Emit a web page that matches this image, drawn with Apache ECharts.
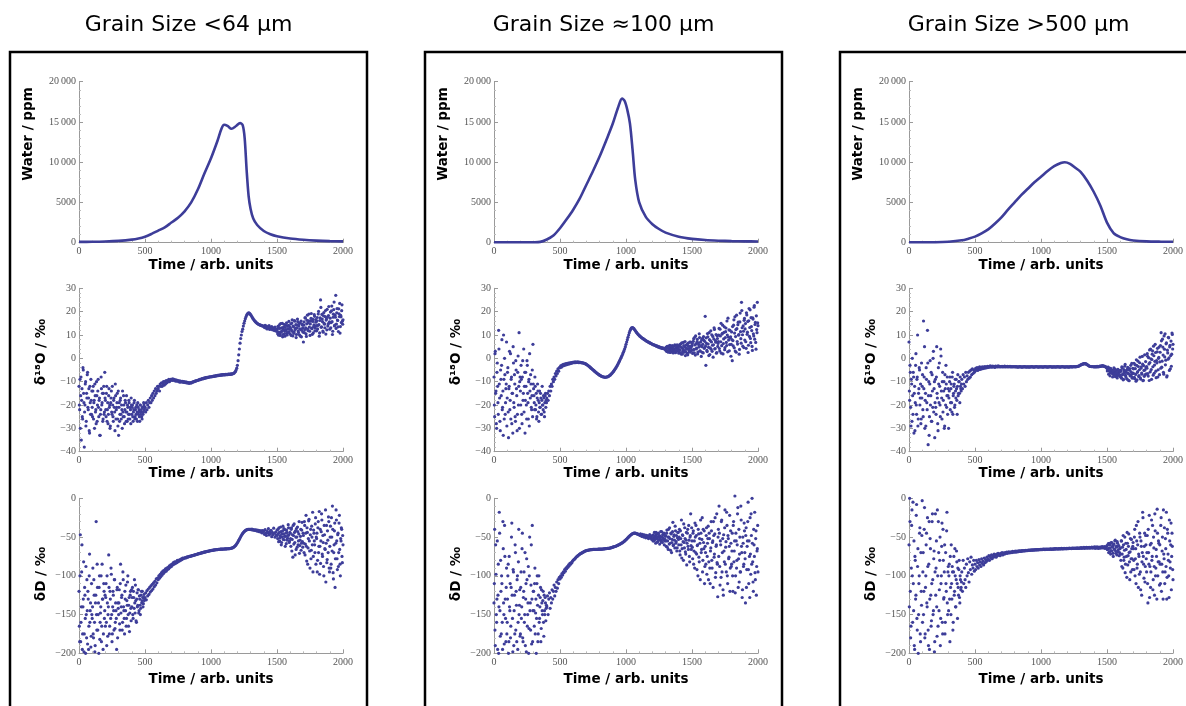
<!DOCTYPE html>
<html>
<head>
<meta charset="utf-8">
<script src="https://cdn.jsdelivr.net/npm/echarts@6/dist/echarts.min.js"></script>
<style>html,body{margin:0;padding:0;background:#fff}#chart{width:1186px;height:706px}</style>
</head>
<body>
<div id="chart"></div>
<script>
// ---------- DATA ----------
const panelTitles = ['Grain Size <64 µm', 'Grain Size \u2248100 µm', 'Grain Size >500 µm'];
const xAxisTitle = 'Time / arb. units';
const yAxisTitles = ['Water / ppm', '\u03b4\u00b9\u2078O / \u2030', '\u03b4D / \u2030'];
const timeTicks = [0, 500, 1000, 1500, 2000];

// water content curves: [time, ppm]
const waterFine = [[0,100],[100,110],[200,150],[300,230],[400,380],[450,520],[500,750],[550,1100],[600,1500],[650,1900],[700,2500],[750,3100],[800,3900],[850,5000],[900,6600],[950,8600],[1000,10500],[1050,12700],[1080,14200],[1100,14650],[1125,14500],[1155,14150],[1190,14500],[1220,14850],[1240,14600],[1255,13000],[1270,9000],[1285,5800],[1300,4200],[1320,3000],[1350,2200],[1400,1450],[1450,1050],[1500,800],[1600,520],[1700,360],[1800,260],[1900,200],[2000,170]];
const waterMid = [[0,50],[200,50],[300,60],[350,100],[400,400],[450,900],[500,1800],[550,2900],[600,4100],[650,5500],[700,7200],[750,8900],[800,10700],[850,12700],[900,14800],[940,16800],[970,17900],[990,17600],[1010,16500],[1030,14800],[1050,11500],[1070,7800],[1100,5000],[1150,3200],[1200,2300],[1250,1700],[1300,1250],[1400,750],[1500,480],[1600,330],[1700,250],[1800,200],[1900,170],[2000,150]];
const waterCoarse = [[0,50],[200,60],[300,120],[400,300],[450,500],[500,750],[550,1150],[600,1650],[650,2350],[700,3150],[750,4100],[800,5000],[850,5900],[900,6700],[950,7500],[1000,8200],[1050,8900],[1100,9500],[1150,9900],[1180,10000],[1220,9800],[1260,9300],[1300,8800],[1350,7700],[1400,6300],[1450,4600],[1500,2500],[1550,1200],[1600,700],[1650,420],[1700,280],[1800,170],[1900,130],[2000,110]];

// isotope values sampled every 5 time units (index i -> time 5*i), 0..2000
const SAMPLE_STEP = 5;
const d18oFine = [
-12,-22,-30,-8,-18,-25,-4,-15,-38,-20,-10,-27,-17,-6,-22,-13,-32,-19,-9,-24,
-21,-14,-26,-18,-11,-23,-28,-16,-20,-9,-25,-17,-33,-22,-13,-19,-27,-15,-24,-6,
-18,-25,-12,-22,-28,-16,-21,-30,-19,-14,-24,-20,-27,-17,-23,-11,-26,-21,-15,-29,
-33,-19,-24,-17,-26,-22,-14,-25,-20,-28,-18,-23,-16,-27,-21,-24,-19,-26,-22,-17,
-24,-20,-27,-22,-18,-25,-21,-26,-23,-19,-24,-22,-27,-20,-23,-25,-21,-24,-19,-22,
-21,-23,-19,-22,-20,-18,-21,-19,-17,-19,-16,-18,-15,-17,-14,-16,-13,-15,-14,-12,
-13,-12,-14,-11,-12,-10.5,-12,-11,-10,-11.5,-10,-11,-9.5,-10.5,-9.5,-10,-9,-10,-9.5,-9,
-9,-9.5,-8.8,-9.4,-9,-9.6,-9.2,-9.8,-9.3,-9.7,-9.5,-10,-9.6,-10.2,-9.8,-10,-10.1,-9.9,-10.3,-10,
-10.2,-10.4,-10.1,-10.5,-10.3,-10.6,-10.4,-10.7,-10.5,-10.4,-10.6,-10.3,-10.2,-10.1,-10,-9.9,-9.8,-9.7,-9.6,-9.5,
-9.4,-9.3,-9.2,-9,-9.1,-8.9,-8.8,-8.7,-8.8,-8.5,-8.6,-8.4,-8.3,-8.4,-8.2,-8.1,-8.2,-8,-7.9,-8,
-7.9,-7.8,-7.9,-7.7,-7.6,-7.7,-7.5,-7.6,-7.4,-7.5,-7.3,-7.4,-7.2,-7.3,-7.2,-7.1,-7.2,-7,-7.1,-7,
-7,-7.1,-6.9,-7,-6.9,-7,-6.8,-6.9,-6.8,-6.9,-6.7,-6.8,-6.7,-6.6,-6.5,-6.3,-6,-5.6,-5,-4.2,
-3,-1,1.5,4,6.5,8.5,10,11.5,12.5,13.8,15,16,17,17.8,18.5,19,19.3,19.5,19.4,19.1,
18.7,18.3,17.8,17.3,16.9,16.5,16.1,15.8,15.5,15.2,15,14.8,14.6,14.5,14.3,14.2,14.1,14,13.9,13.8,
13.7,13.2,14.1,13,13.8,12.6,13.5,12.9,14,12.4,13.3,12.7,13.6,12.2,13.1,12.8,11.9,13.4,12.5,11.6,
12.5,10.5,13.8,11.2,14.5,9.8,12.9,11.6,15,10.2,13.4,11.9,9.5,14.2,12.2,10.8,13.9,11.1,15.8,12.6,
10.4,14.8,12.1,16.5,9.6,13.5,11.3,15.9,12.8,8.9,14.2,16.8,11.7,13.9,10.1,15.3,12.4,9.2,14.6,13.1,
7,15.6,12.3,17.2,10.5,14.8,18.5,11.9,16.1,13.4,9.8,15.9,19.2,12.7,16.8,10.9,14.3,18,13,15.5,
11.8,17.5,14.1,20.1,9.5,16.2,25,13.3,18.8,15.7,11.2,19.6,14.6,17.9,10.4,16.9,21,13.8,18.3,15.1,
12.5,19.8,15.3,22.4,10.2,17.6,20.9,13.9,18.5,27,14.7,21.3,16.2,11.5,19.1,23.5,13.6,17.8,20.4,15.9,
16.5];
const dDFine = [
-120,-185,-47,-160,-95,-195,-140,-82,-175,-125,-200,-150,-105,-188,-130,-165,-72,-145,-192,-110,
-155,-90,-180,-125,-198,-135,-30,-170,-115,-150,-200,-100,-160,-140,-185,-85,-130,-175,-120,-145,
-165,-110,-190,-135,-150,-73,-175,-120,-155,-98,-185,-140,-125,-170,-105,-160,-145,-195,-115,-135,
-150,-118,-170,-85,-140,-125,-160,-105,-145,-175,-130,-112,-155,-138,-100,-165,-128,-148,-120,-158,
-140,-115,-155,-128,-105,-148,-132,-160,-122,-138,-118,-145,-130,-150,-125,-135,-120,-140,-128,-132,
-128,-122,-131,-119,-126,-117,-124,-115,-121,-113,-119,-111,-117,-109,-114,-107,-112,-104,-109,-103,
-105,-100,-103,-98,-101,-96,-99,-94,-97,-93,-95,-91,-94,-90,-92,-89,-91,-87,-89,-86,
-88,-85,-86,-83,-85,-82,-84,-82,-83,-80,-82,-80,-81,-79,-80,-78,-79,-77,-78,-77,
-77,-76.5,-77,-76,-76,-75.5,-75.5,-75,-75,-74.5,-74.5,-74,-74,-73.5,-73.5,-73,-73,-72.5,-72.5,-72,
-72,-71.5,-71.5,-71,-71,-70.5,-70.5,-70,-70,-69.5,-69.5,-69.2,-69,-68.8,-68.6,-68.4,-68.2,-68,-67.8,-67.6,
-67.4,-67.2,-67,-66.9,-66.8,-66.6,-66.5,-66.4,-66.3,-66.2,-66.1,-66,-65.9,-65.8,-65.7,-65.6,-65.6,-65.5,-65.5,-65.4,
-65.4,-65.3,-65.3,-65.2,-65.2,-65.1,-65.1,-65,-65,-64.8,-64.6,-64.4,-64.1,-63.7,-63.2,-62.6,-61.9,-61,-60,-58.8,
-57.5,-56,-54.4,-52.8,-51.2,-49.6,-48,-46.6,-45.3,-44.2,-43.2,-42.4,-41.7,-41.1,-40.6,-40.3,-40.1,-40,-40,-40.1,
-40.2,-40.5,-39.8,-40.9,-40.3,-41.2,-40.6,-41.5,-40.8,-42,-41.1,-42.5,-41.3,-43,-41.7,-43.2,-42,-44.5,-41.8,-43.8,
-42,-46.5,-40.5,-45.2,-48,-42.8,-44.6,-39.2,-47.3,-43.1,-45.9,-41.2,-49.5,-44,-46.8,-38.5,-45.1,-50.2,-43.5,-47.6,
-41,-52,-45.5,-38,-55,-48.2,-43,-57,-50,-36,-46,-53.5,-40.5,-49,-58.5,-44,-51.5,-34,-47.5,-55,
-45,-62,-38,-53,-76,-48,-33,-57,-42,-66,-50,-37,-60,-46,-71,-54,-40,-58,-31,-63,
-48,-70,-35,-59,-22,-81,-44,-64,-29,-55,-90,-40,-67,-50,-18,-75,-45,-60,-33,-85,
-52,-95,-38,-70,-17,-62,-84,-43,-28,-75,-57,-100,-47,-66,-108,-35,-79,-54,-24,-90,
-62,-36,-85,-50,-10,-96,-70,-42,-115,-58,-28,-78,-47,-88,-32,-66,-100,-55,-40,-83,
-60];
const d18oMid = [
-8,-25,3,-14,-30,-2,-19,12,-11,-27,-5,-16,8,-21,-33,-9,0,-24,-13,7,
-17,-4,-34,-12,-22,2,-9,-28,-15,5,-19,-7,-25,-1,-13,-31,-6,-20,11,-10,
-14,-3,-24,-8,-18,4,-12,-32,-6,-20,-1,-15,-26,-9,2,-17,-11,-22,-5,6,
-13,-19,-8,-22,-15,-25,-11,-18,-27,-14,-21,-17,-24,-12,-20,-16,-23,-19,-15,-18,
-17,-15,-18,-14,-16,-12,-14,-11,-12,-9,-10,-8,-9,-6.5,-7.5,-5.5,-6.5,-4.5,-5.5,-4,
-4,-3.2,-3.8,-2.9,-3.3,-2.6,-3.1,-2.5,-2.9,-2.3,-2.7,-2.2,-2.5,-2,-2.4,-1.9,-2.2,-1.8,-2.1,-1.7,
-1.8,-1.6,-1.9,-1.5,-1.8,-1.6,-1.7,-1.5,-1.8,-1.6,-1.8,-1.7,-1.9,-1.8,-2,-1.9,-2.1,-2.1,-2.3,-2.4,
-2.6,-2.8,-3,-3.2,-3.4,-3.7,-3.9,-4.2,-4.4,-4.7,-4.9,-5.2,-5.4,-5.7,-5.9,-6.1,-6.4,-6.6,-6.8,-7,
-7.2,-7.4,-7.5,-7.7,-7.8,-7.9,-8,-8,-8.1,-8.1,-8,-8,-7.9,-7.8,-7.6,-7.4,-7.2,-6.9,-6.6,-6.3,
-6,-5.6,-5.2,-4.8,-4.4,-3.9,-3.4,-2.9,-2.4,-1.8,-1.2,-0.6,0,0.6,1.2,1.9,2.6,3.3,4.1,5,
6,7,8,9,10,11,11.8,12.4,12.9,13.1,13.2,13,12.7,12.3,11.9,11.5,11.1,10.7,10.4,10.1,
9.8,9.5,9.3,9,8.8,8.6,8.4,8.2,8,7.8,7.6,7.4,7.3,7.1,6.9,6.8,6.6,6.5,6.3,6.2,
6,5.9,5.7,5.8,5.5,5.4,5.2,5.3,5,4.8,5,4.6,4.7,4.4,4.6,4.2,4.5,4.1,4.3,3.9,
3.6,4.8,3.1,4.3,2.7,5.2,3.8,2.5,4.6,3.3,5.5,2.9,4.1,3.5,5.8,2.4,4.4,3.2,5,3.7,
2.2,5.4,3.6,6.2,1.8,4.5,3,6.8,2.6,4.9,1.2,5.7,3.9,2.1,6.5,4.2,2.8,5.1,7,3.4,
5.5,2.1,7.3,3.8,9,1.4,6.2,4.4,8.1,2.7,5.9,10.5,3.2,6.9,0.8,5,8.6,2.3,7.7,4.6,
18,-3,6.4,2.9,9.2,4.7,11,1.6,7.5,3.9,10.1,5.6,0.5,8.3,12.4,4.2,6.9,2.2,9.7,5.1,
7.2,12.8,3.1,9.6,15,5.4,10.7,1.9,8.3,13.5,4.6,11.4,6.8,16,2.8,9.1,12.2,5.9,8.7,0.9,
11.3,-1,7.6,14.2,4.5,17.8,9.3,2.6,12.7,6.1,15.5,10.2,3.8,19.4,8.4,24,13.1,5.2,11.6,16.3,
7.8,14.9,4.3,18.6,11.2,2.5,16.1,9.4,20.8,6.7,13.6,5.1,17.3,10.5,21.9,8.2,15.4,3.9,12.3,24,
14];
const dDMid = [
-135,-40,-190,-98,-160,-55,-125,-200,-18,-145,-80,-175,-110,-195,-65,-150,-35,-130,-185,-90,
-160,-100,-200,-75,-145,-180,-115,-32,-155,-92,-190,-125,-60,-170,-138,-105,-195,-82,-150,-118,
-175,-95,-140,-45,-185,-120,-160,-70,-130,-198,-105,-150,-88,-168,-50,-135,-112,-188,-35,-145,
-120,-165,-90,-148,-200,-110,-138,-175,-100,-155,-128,-185,-118,-145,-132,-160,-125,-150,-135,-142,
-140,-126,-150,-130,-122,-142,-128,-135,-118,-130,-120,-112,-126,-115,-120,-108,-116,-105,-110,-102,
-104,-100,-102,-97,-99,-95,-96,-92,-94,-90,-91,-88,-89,-86,-87,-84,-85,-83,-83,-81,
-80,-79,-78.5,-77.5,-76.5,-75.5,-75,-74,-73.5,-72.5,-72,-71.5,-71,-70.5,-70,-69.5,-69,-68.5,-68,-67.8,
-67.5,-67.3,-67,-66.8,-66.7,-66.5,-66.4,-66.3,-66.2,-66.1,-66,-66,-66,-65.9,-65.9,-65.8,-65.8,-65.8,-65.7,-65.7,
-65.7,-65.6,-65.6,-65.5,-65.5,-65.4,-65.3,-65.2,-65.1,-65,-64.9,-64.8,-64.7,-64.6,-64.5,-64.3,-64.1,-63.9,-63.7,-63.4,
-63.1,-62.8,-62.5,-62.2,-61.9,-61.6,-61.2,-60.8,-60.4,-60,-59.6,-59.1,-58.6,-58.1,-57.6,-57,-56.4,-55.7,-55,-54.2,
-53.4,-52.6,-51.7,-50.8,-49.9,-49,-48.2,-47.4,-46.7,-46.1,-45.6,-45.2,-45,-44.9,-45,-45.3,-45.7,-46,-46.3,-46.6,
-46.8,-48,-46,-47.8,-49.2,-46.5,-48.6,-50,-47.3,-49.5,-51,-47.8,-50.3,-48.5,-52,-49,-46.8,-51.5,-49.7,-53,
-48,-55,-51,-44,-53,-58,-47,-52,-56,-45,-50,-59,-49,-54,-43,-57,-51,-46,-60,-53,
-48,-62,-41,-55,-66,-50,-38,-58,-45,-70,-53,-31,-60,-47,-64,-42,-56,-68,-51,-44,
-60,-40,-73,-52,-28,-65,-48,-80,-57,-38,-69,-54,-86,-45,-62,-35,-75,-50,-20,-66,
-55,-78,-42,-68,-90,-50,-35,-72,-61,-100,-46,-82,-58,-28,-70,-53,-95,-40,-65,-110,
-62,-85,-38,-75,-52,-105,-45,-90,-68,-30,-80,-57,-115,-48,-72,-25,-96,-60,-83,-127,
-40,-10,-88,-55,-102,-28,-70,-118,-47,-82,-15,-63,-95,-35,-110,-52,-76,-22,-90,-58,
-85,-45,-120,-30,-68,3,-100,-55,-80,-20,-115,-40,-72,-95,-10,-62,-128,-50,-88,-32,
-70,-135,-38,-92,-55,-5,-110,-75,-25,-98,-48,0,-82,-120,-60,-18,-105,-42,-88,-65,
-95];
const d18oCoarse = [
7,-18,-6,-29,-11,0,-24,-8,-15,-31,-3,-20,-9,10,-26,-13,-5,-17,-28,-2,
-12,-22,16,-8,-30,-15,-4,-19,12,-37,-10,-25,-1,-16,-27,-7,-21,3,-13,-34,
-9,-24,5,-17,-31,-11,-2,-20,4,-14,-26,-6,-18,-10,-29,-13,-3,-21,-8,-16,
-30,-14,-8,-19,-11,-23,-6,-16,-12,-21,-9,-17,-13,-24,-7,-15,-10,-19,-12,-14,
-9,-13,-7,-11,-8,-12,-6,-10,-7.5,-9,-6,-8.5,-5.5,-8,-5,-7,-4.5,-6.5,-5,-6,
-5.5,-4.3,-5,-4,-5.2,-4.1,-4.8,-3.7,-4.7,-3.9,-4.5,-3.6,-4.4,-3.8,-4.2,-3.5,-4.1,-3.7,-4,-3.4,
-3.9,-3.5,-3.8,-3.2,-3.7,-3.4,-3.8,-3.3,-3.6,-3.5,-3.9,-3.3,-3.6,-3.4,-3.7,-3.2,-3.6,-3.4,-3.7,-3.5,
-3.6,-3.4,-3.7,-3.5,-3.6,-3.3,-3.7,-3.5,-3.6,-3.4,-3.7,-3.5,-3.6,-3.4,-3.7,-3.6,-3.5,-3.7,-3.6,-3.5,
-3.6,-3.7,-3.5,-3.7,-3.6,-3.8,-3.6,-3.7,-3.5,-3.7,-3.6,-3.8,-3.7,-3.6,-3.7,-3.5,-3.7,-3.6,-3.8,-3.6,
-3.7,-3.6,-3.8,-3.7,-3.6,-3.7,-3.5,-3.7,-3.6,-3.8,-3.7,-3.6,-3.7,-3.5,-3.6,-3.7,-3.8,-3.6,-3.7,-3.6,
-3.7,-3.6,-3.7,-3.8,-3.6,-3.7,-3.5,-3.7,-3.6,-3.7,-3.8,-3.6,-3.7,-3.6,-3.5,-3.7,-3.6,-3.8,-3.7,-3.6,
-3.7,-3.6,-3.8,-3.6,-3.7,-3.5,-3.7,-3.6,-3.7,-3.8,-3.6,-3.7,-3.5,-3.6,-3.7,-3.6,-3.8,-3.7,-3.6,-3.7,
-3.6,-3.7,-3.8,-3.6,-3.7,-3.5,-3.7,-3.6,-3.7,-3.6,-3.5,-3.6,-3.7,-3.5,-3.6,-3.4,-3.5,-3.3,-3.2,-3,
-2.9,-2.7,-2.6,-2.5,-2.4,-2.3,-2.3,-2.3,-2.4,-2.5,-2.7,-2.9,-3.1,-3.3,-3.4,-3.5,-3.5,-3.6,-3.5,-3.6,
-3.6,-3.7,-3.5,-3.7,-3.6,-3.4,-3.7,-3.5,-3.6,-3.3,-3.5,-3.2,-3.4,-3.1,-3.3,-3.2,-3.5,-3.4,-3.7,-3.9,
-4.2,-4.8,-3.9,-5.3,-4.5,-6.1,-4.9,-5.7,-6.5,-5.1,-7,-5.8,-4.6,-6.9,-5.4,-7.6,-6.2,-5,-7.3,-6,
-7.8,-5.2,-8.5,-4,-6.7,-9,-5.5,-3.4,-7.2,-6,-8.8,-4.6,-6.4,-9.5,-5.1,-7.5,-3,-6.9,-8.2,-4.3,
-6.5,-2.1,-8.7,-4.4,-9.8,-3,-6,-1.2,-7.8,-4.9,0.5,-8.9,-3.6,-6.8,-2.5,-9.4,-5.2,1.5,-7,-4,
-3.5,2,-6.5,0.3,-9.5,-1.8,4,-4.8,-0.5,3.2,-7.2,1.1,-2.9,6,-5.5,-1,2.8,-8,0,4.8,
-1.5,5.5,11,-3.8,8.2,1.4,-6.8,3.9,10.5,-0.8,6.6,-7.5,2.3,9,0.2,4.9,-4.5,7.4,1.8,10.2,
6];
const dDCoarse = [
-60,0,-120,-165,-35,-100,-5,-145,-190,-75,-130,-22,-155,-88,-200,-110,-45,-175,-70,-138,
-3,-95,-150,-40,-180,-115,-60,-135,-25,-170,-85,-195,-52,-125,-158,-30,-105,-145,-68,-185,
-20,-90,-140,-15,-165,-70,-118,-50,-155,-100,-32,-175,-80,-128,-60,-160,-110,-42,-135,-95,
-145,-85,-185,-115,-60,-130,-95,-160,-75,-120,-100,-140,-68,-110,-90,-125,-80,-135,-105,-115,
-95,-120,-80,-110,-90,-105,-115,-85,-100,-78,-96,-108,-82,-92,-76,-98,-86,-90,-80,-94,
-85,-92,-80,-88,-83,-90,-79,-86,-82,-88,-78,-84,-81,-86,-77,-83,-79,-82,-76,-80,
-78,-74,-80,-75,-77,-73,-78,-74,-76,-72,-75,-73,-76,-72,-74,-71,-73,-72,-74,-71,
-72,-70,-73,-71,-70.5,-72,-70,-71,-69.5,-71,-70,-69,-70.5,-69.5,-70,-69,-70,-68.5,-69.5,-69,
-69,-68,-69.5,-68.5,-68,-69,-68.2,-67.8,-68.6,-67.9,-68.4,-67.6,-68.1,-67.5,-68,-67.4,-67.8,-67.3,-67.7,-67.2,
-67.5,-66.8,-67.3,-66.7,-67.1,-66.5,-67,-66.6,-66.9,-66.4,-66.8,-66.3,-66.7,-66.2,-66.6,-66.1,-66.5,-66.2,-66.4,-66,
-66.3,-65.8,-66.2,-65.7,-66,-65.6,-66.1,-65.5,-65.9,-65.6,-65.8,-65.4,-65.9,-65.5,-65.7,-65.3,-65.8,-65.4,-65.6,-65.2,
-65.6,-65,-65.5,-64.9,-65.4,-65.1,-65.5,-64.8,-65.3,-65,-65.4,-64.7,-65.2,-64.9,-65.3,-64.6,-65.1,-64.8,-65.2,-64.6,
-65,-64.5,-64.9,-64.3,-64.8,-64.6,-64.9,-64.2,-64.7,-64.4,-64.8,-64.1,-64.6,-64.3,-64.7,-64,-64.5,-64.2,-64.6,-64,
-64.4,-63.6,-64.6,-63.8,-64.2,-63.4,-64.5,-63.7,-64.1,-63.3,-64.3,-63.6,-64,-63.2,-64.4,-63.5,-63.9,-63.1,-64.2,-63.4,
-63.9,-62.8,-64.6,-63,-64.2,-62.5,-63.7,-64.8,-62.9,-63.5,-64.4,-62.6,-63.8,-62.2,-64.1,-63.2,-62.4,-64.7,-63,-62.7,
-61,-66,-58.5,-64.5,-69,-60,-67.5,-57,-63,-71,-59.5,-65.5,-55,-68,-62,-73,-58,-66.5,-61.5,-70,
-64,-80,-55,-72,-90,-60,-76,-50,-85,-66,-102,-58,-74,-46,-82,-69,-95,-53,-78,-62,
-65,-92,-40,-78,-110,-55,-85,-30,-72,-98,-50,-118,-62,-82,-18,-75,-103,-45,-88,-60,
-95,-48,-135,-70,-22,-88,-115,-58,-80,-35,-105,-64,-125,-42,-90,-75,-14,-100,-55,-82,
-60,-110,-25,-85,-50,-130,-72,-38,-95,-65,-18,-102,-45,-80,-128,-55,-90,-32,-75,-62,
-105];

// additional readings in the scattered stretches, interleaved half-way between the samples above
// (value i sits at time start + 2.5 + 5*i)
const d18oFineEarly = [
-20,-9,-16,-35,-13,-26,-5,-19,-23,-11,-29,-15,-7,-21,-17,-31,-12,-24,-18,-14,
-25,-12,-19,-30,-16,-22,-10,-27,-14,-21,-18,-33,-24,-8,-20,-15,-26,-12,-23,-17,
-22,-15,-27,-19,-24,-13,-20,-29,-17,-23,-12,-25,-18,-21,-31,-16,-22,-19,-26,-14,
-21,-27,-18,-24,-20,-30,-23,-16,-25,-22,-19,-27,-23,-20,-26,-18,-24,-21,-28,-20,
-21,-25,-23,-19,-26,-22,-24,-20,-27,-21,-23,-25,-20,-24,-22,-26,-21,-23,-20,-21];
const d18oFineLate = [
11.5,13.6,9.9,12.8,10.7,14.9,11.3,13.1,9.2,12.4,14.6,10.6,13.2,11.8,15.2,10,12.7,14.1,11.4,13.5,
12.9,9.8,15.1,11.5,13.8,10.7,16.2,12.3,14.4,10.2,13,15.7,11.1,14.9,12.6,9.5,16,12,14.3,11.2,
14.2,11,17.5,13.1,9.4,16.3,12.5,15.2,19,11.6,14.7,17.1,12.9,10.3,15.8,13.6,18.7,11.8,16.6,14,
16.1,12.6,19,14.4,10.9,17.3,21.8,13.5,16.8,11.7,18.2,15,13.1,20.5,16.4,12.2,17.7,14.8,22.2,15.6,
17.2,13.1,20.3,15.7,11.6,18.9,24.1,14.2,17.6,12.8,19.5,16.4,13.5,21.2,17.9,10.8,18.4,15.3,22.9,14.6];
const dDFineEarly = [
-165,-100,-185,-140,-60,-175,-130,-198,-115,-155,-88,-180,-145,-120,-195,-100,-160,-135,-178,-150,
-140,-175,-105,-160,-190,-125,-150,-85,-170,-135,-115,-182,-148,-100,-165,-130,-195,-110,-155,-125,
-128,-160,-100,-178,-140,-115,-165,-130,-90,-150,-175,-120,-145,-105,-168,-135,-155,-118,-180,-142,
-135,-162,-110,-148,-128,-170,-95,-140,-155,-120,-145,-165,-132,-108,-150,-138,-172,-125,-142,-118,
-128,-150,-120,-142,-135,-112,-158,-130,-140,-118,-148,-126,-138,-142,-120,-132,-128,-136,-124,-130];
const dDFineLate = [
-48,-40,-56,-44,-51,-37,-60,-46,-42,-53,-39,-49,-62,-45,-41,-54,-48,-38,-57,-44,
-52,-40,-68,-47,-35,-59,-44,-73,-50,-39,-63,-43,-55,-30,-61,-49,-67,-41,-56,-45,
-58,-30,-73,-45,-62,-38,-85,-52,-27,-68,-47,-78,-36,-60,-95,-41,-55,-70,-25,-50,
-45,-80,-30,-62,-98,-40,-55,-20,-72,-48,-88,-35,-65,-15,-58,-83,-42,-70,-30,-95,
-50,-90,-25,-68,-40,-104,-60,-32,-78,-15,-55,-92,-45,-70,-22,-85,-52,-38,-75,-48];
const d18oMidEarly = [
-20,2,-15,-28,-6,-12,-24,4,-17,-31,-9,-3,-22,-14,10,-26,-7,-19,-11,-29,
-6,-23,-13,3,-18,-26,-8,-15,-32,-2,-21,-11,-27,-5,-16,-24,1,-12,-30,-8,
-20,-9,-28,-1,-15,-23,-6,-18,-12,-26,-3,-19,-10,-29,-14,-7,-21,-16,-25,-11,
-16,-22,-12,-20,-26,-17,-14,-23,-19,-21,-15,-24,-18,-20,-22,-17,-25,-16,-21,-19];
const d18oMidLate = [
4.2,3,5.1,2.8,4.6,3.4,5.6,2.6,4,3.7,4.9,2.3,3.9,5.3,3.1,4.4,2.9,5.8,3.6,4.5,
3.2,5.9,2.4,4.8,6.6,1.9,4.1,5.5,3.3,7.2,2.8,4.4,6,1.5,5.2,3.6,6.9,2.7,4.6,5.3,
6.3,3.5,8.4,2.4,5.7,9.6,4,7,1.9,6.6,4.8,8.9,3.1,5.4,7.8,2.6,6,9.3,4.3,7.2,
5.2,8.8,3.4,10.6,6.1,1.2,8,4.5,11.8,7,3,9.4,5.8,13.1,4,7.6,10.2,2.5,8.5,6.4,
9.9,4.2,12.5,7.1,2.2,10.4,14.2,6.3,11.1,3.7,8.9,13,5.5,10,17.2,7.8,3.2,12,9.2,6,
8,13.6,5.3,16.5,10.8,3.1,12.3,18.5,7.2,14.4,9.9,1.8,15.6,11.4,6.5,20.5,10.1,13.9,4.6,17.1,
12.6,7.1,19.5,10.3,15.8,5.6,21.3,13.2,8.5,17.4,11.9,3.4,16.8,9.6,22.6,14.5,6.8,18.2,11,15.2];
const dDMidEarly = [
-110,-170,-60,-150,-130,-195,-85,-140,-45,-178,-120,-100,-160,-30,-135,-188,-75,-155,-115,-175,
-130,-85,-185,-140,-110,-165,-50,-125,-198,-95,-145,-175,-70,-120,-185,-100,-160,-40,-138,-178,
-115,-155,-65,-180,-128,-95,-150,-190,-110,-78,-165,-135,-200,-100,-145,-170,-60,-130,-185,-120,
-145,-110,-175,-130,-155,-100,-185,-125,-160,-140,-115,-168,-135,-150,-120,-178,-145,-128,-158,-138];
const dDMidLate = [
-52,-47,-55,-49,-51,-44,-57,-50,-46,-54,-48,-52,-43,-56,-50,-47,-53,-45,-55,-49,
-55,-45,-63,-50,-40,-59,-52,-67,-46,-57,-43,-61,-49,-54,-36,-58,-48,-64,-44,-53,
-50,-68,-42,-60,-77,-47,-56,-33,-64,-52,-72,-44,-58,-40,-66,-54,-82,-48,-61,-38,
-63,-45,-85,-55,-32,-70,-48,-92,-60,-40,-76,-52,-105,-45,-66,-25,-80,-57,-42,-88,
-70,-48,-98,-58,-36,-82,-52,-110,-64,-42,-90,-55,-30,-76,-46,-102,-62,-20,-85,-50,
-75,-45,-112,-60,-30,-95,-52,-125,-68,-38,-85,-56,-18,-100,-48,-78,-62,-120,-42,-88,
-68,-100,-35,-82,-55,-122,-45,-90,-60,-12,-78,-108,-50,-95,-28,-70,-118,-58,-85,-42,
-78,-48,-115,-62,-30,-92,-55,-128,-72,-20,-85,-58,-108,-40,-75,-96,-52,-125,-68,-35];
const d18oCoarseEarly = [
-14,-3,-21,-9,-27,-16,-6,-32,-12,-19,2,-24,-8,-29,-15,-4,-20,-11,-26,-17,
-7,-25,-13,5,-18,-29,-9,-22,-2,-16,-33,-11,-20,-6,-27,-14,0,-23,-10,-19,
-21,-8,-15,-28,-4,-19,-12,-25,1,-17,-10,-23,-14,-30,-7,-20,-11,-16,-24,-13,
-17,-10,-22,-13,-19,-8,-24,-15,-11,-20,-14,-9,-18,-12,-16,-10,-15,-8,-13,-11];
const d18oCoarseLate = [
-5.4,-3.8,-6.8,-4.9,-7.5,-4.3,-6.2,-5.1,-8,-5.6,-4.1,-6.5,-7.8,-5,-6,-8.4,-4.7,-6.9,-5.3,-7.2,
-5.6,-8.2,-3.7,-7,-9.2,-4.8,-6.1,-2.6,-7.9,-5.2,-8.9,-3.9,-6.6,-9.6,-4.4,-7.4,-5.8,-2.2,-8.5,-6.3,
-4.5,-8.1,-2.8,-6.9,-0.6,-9.2,-5.7,-3.5,-7.4,-1.9,-8.4,-4.2,-6.3,0.8,-9.6,-3.1,-7.7,-5,-1.4,-6.6,
-4.2,0.9,-7.6,-2.4,3.6,-5.8,-0.2,-9,1.8,-3.6,5.2,-6.4,-1.3,2.5,-8.3,-2,4.3,-4.9,0.4,-7,
2.6,-4.2,7.5,-1.2,4.8,-6,9.6,0.6,-2.8,6.2,-8,3.5,-0.4,8.8,-5.2,5.6,1.2,-3.4,10.8,4];
const dDCoarseEarly = [
-140,-30,-180,-90,-15,-160,-110,-55,-195,-80,-125,-8,-170,-65,-150,-100,-38,-185,-120,-48,
-160,-70,-120,-12,-175,-100,-45,-140,-88,-190,-30,-130,-65,-165,-110,-20,-150,-78,-198,-95,
-125,-55,-178,-100,-30,-145,-80,-190,-110,-62,-160,-40,-130,-95,-175,-70,-120,-18,-150,-88,
-100,-130,-75,-150,-110,-88,-170,-95,-125,-65,-140,-105,-82,-155,-115,-92,-128,-100,-118,-108];
const dDCoarseLate = [
-66,-60,-70,-58,-64,-72,-57,-68,-62,-75,-59,-66,-54,-71,-63,-56,-69,-61,-74,-65,
-72,-55,-88,-63,-48,-80,-67,-96,-58,-75,-44,-86,-62,-70,-105,-52,-78,-65,-92,-57,
-80,-50,-100,-65,-35,-90,-60,-115,-75,-45,-95,-55,-125,-70,-25,-85,-62,-108,-48,-78,
-70,-110,-40,-85,-128,-60,-95,-28,-75,-118,-50,-88,-20,-100,-66,-130,-45,-82,-58,-112,
-85,-35,-120,-68,-95,-15,-78,-110,-52,-88,-130,-40,-72,-100,-28,-82,-60,-118,-45,-92];

// start times of the additional stretches
const extraStarts = {
  d18oFineEarly: 0, d18oFineLate: 1500, dDFineEarly: 0, dDFineLate: 1500,
  d18oMidEarly: 0, d18oMidLate: 1300, dDMidEarly: 0, dDMidLate: 1200,
  d18oCoarseEarly: 0, d18oCoarseLate: 1500, dDCoarseEarly: 0, dDCoarseLate: 1500
};

const waterSeries = [waterFine, waterMid, waterCoarse];
const d18oSeries = [d18oFine, d18oMid, d18oCoarse];
const dDSeries = [dDFine, dDMid, dDCoarse];
const d18oExtras = [
  [[d18oFineEarly, extraStarts.d18oFineEarly], [d18oFineLate, extraStarts.d18oFineLate]],
  [[d18oMidEarly, extraStarts.d18oMidEarly], [d18oMidLate, extraStarts.d18oMidLate]],
  [[d18oCoarseEarly, extraStarts.d18oCoarseEarly], [d18oCoarseLate, extraStarts.d18oCoarseLate]]
];
const dDExtras = [
  [[dDFineEarly, extraStarts.dDFineEarly], [dDFineLate, extraStarts.dDFineLate]],
  [[dDMidEarly, extraStarts.dDMidEarly], [dDMidLate, extraStarts.dDMidLate]],
  [[dDCoarseEarly, extraStarts.dDCoarseEarly], [dDCoarseLate, extraStarts.dDCoarseLate]]
];

// ---------- LAYOUT / STYLE ----------
const COLOR = '#3d3d99';
const AXIS_GREY = '#9a9a9a';
const colOffset = [0, 415, 830];
const plotLeft = 79, plotWidth = 264;
const rowGeom = [
  {top: 81.7, height: 161, nameGap: 16},
  {top: 288.3, height: 163.4, nameGap: 14},
  {top: 498.3, height: 155, nameGap: 19}
];
const yScales = [
  {min: 0, max: 20000, interval: 5000},
  {min: -40, max: 30, interval: 10},
  {min: -200, max: 0, interval: 50}
];
const yNamePos = [{x: 28, y: 134}, {x: 41, y: 352}, {x: 41, y: 574}];

function fmtWater(v) {
  const s = String(v);
  return v >= 10000 ? s.slice(0, -3) + '\u2009' + s.slice(-3) : s;
}
function fmtSigned(v) { return v < 0 ? '\u2212' + Math.abs(v) : String(v); }
function fmtPlain(v) { return String(v); }

const toPairs = arr => arr.map((v, i) => [i * SAMPLE_STEP, v]);
const toOffsetPairs = (arr, start) => arr.map((v, i) => [start + SAMPLE_STEP / 2 + i * SAMPLE_STEP, v]);

const grids = [], xAxes = [], yAxes = [], series = [], graphics = [];
const tickLabelStyle = {fontFamily: 'Liberation Serif', fontSize: 10, color: '#555'};

for (let c = 0; c < 3; c++) {
  for (let r = 0; r < 3; r++) {
    const idx = grids.length;
    const g = rowGeom[r];
    grids.push({left: plotLeft + colOffset[c], top: g.top, width: plotWidth, height: g.height, containLabel: false, outerBoundsMode: 'none'});
    xAxes.push({
      gridIndex: idx, type: 'value', min: timeTicks[0], max: timeTicks[timeTicks.length - 1], interval: 500,
      name: xAxisTitle, nameLocation: 'middle', nameGap: g.nameGap,
      nameTextStyle: {fontFamily: 'DejaVu Sans', fontWeight: 'bold', fontSize: 13.5, color: '#000'},
      axisLine: {show: true, onZero: false, lineStyle: {color: AXIS_GREY, width: 1}},
      axisTick: {show: true, inside: true, length: 4, lineStyle: {color: AXIS_GREY}},
      minorTick: {show: true, splitNumber: 5, length: 2, lineStyle: {color: '#bbb'}},
      axisLabel: Object.assign({margin: 4, showMinLabel: true, showMaxLabel: true, hideOverlap: false, formatter: fmtPlain}, tickLabelStyle),
      splitLine: {show: false}
    });
    const ys = yScales[r];
    yAxes.push({
      gridIndex: idx, type: 'value', min: ys.min, max: ys.max, interval: ys.interval,
      axisLine: {show: true, onZero: false, lineStyle: {color: AXIS_GREY, width: 1}},
      axisTick: {show: true, inside: true, length: 4, lineStyle: {color: AXIS_GREY}},
      minorTick: {show: true, splitNumber: 5, length: 2, lineStyle: {color: '#bbb'}},
      axisLabel: Object.assign({margin: 3, showMinLabel: true, showMaxLabel: true, hideOverlap: false,
        formatter: r === 0 ? fmtWater : fmtSigned}, tickLabelStyle),
      splitLine: {show: false}
    });
    if (r === 0) {
      series.push({type: 'line', xAxisIndex: idx, yAxisIndex: idx, data: waterSeries[c], showSymbol: false,
        smooth: 0.3, lineStyle: {color: COLOR, width: 2.6}, silent: true, animation: false});
    } else {
      const main = r === 1 ? d18oSeries[c] : dDSeries[c];
      const extras = r === 1 ? d18oExtras[c] : dDExtras[c];
      let data = toPairs(main);
      extras.forEach(([arr, start]) => { data = data.concat(toOffsetPairs(arr, start)); });
      series.push({type: 'scatter', xAxisIndex: idx, yAxisIndex: idx, data: data, symbol: 'circle',
        symbolSize: 3.2, itemStyle: {color: COLOR, opacity: 1}, clip: false, silent: true, animation: false, large: false});
    }
    graphics.push({type: 'text', x: yNamePos[r].x + colOffset[c], y: yNamePos[r].y, rotation: Math.PI / 2,
      style: {text: yAxisTitles[r], font: 'bold 13.5px "DejaVu Sans"', fill: '#000',
        textAlign: 'center', textVerticalAlign: 'middle', align: 'center', verticalAlign: 'middle'}});
  }
  // panel box
  graphics.push({type: 'rect', shape: {x: 10 + colOffset[c], y: 52, width: c === 2 ? 360 : 357, height: 700},
    style: {fill: 'none', stroke: '#000', lineWidth: 2.5}, z: -1});
  // column title
  graphics.push({type: 'text', x: 188.5 + colOffset[c], y: 25,
    style: {text: panelTitles[c], font: '22px "DejaVu Sans"', fill: '#000',
      textAlign: 'center', textVerticalAlign: 'middle', align: 'center', verticalAlign: 'middle'}});
}

const chart = echarts.init(document.getElementById('chart'), null, {renderer: 'canvas'});
chart.setOption({
  backgroundColor: '#fff',
  animation: false,
  grid: grids,
  xAxis: xAxes,
  yAxis: yAxes,
  series: series,
  graphic: {elements: graphics}
});
</script>
</body>
</html>
